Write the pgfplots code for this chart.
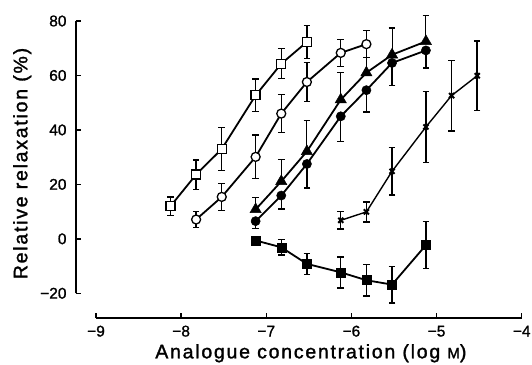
\documentclass[border=0pt]{standalone}
\usepackage{fontspec}
\setmainfont[FakeBold=1.2]{Liberation Sans}
\newfontfamily\lblfont[LetterSpace=9, FakeBold=1.5]{Liberation Sans}
\usepackage{pgfplots}
\usepackage{pgfplotstable}
\pgfplotsset{compat=1.18}

\pgfplotstableread{
x y e
-8.125 12.0 3.4
-7.824 23.6 5.4
-7.523 33.0 8.0
-7.125 52.7 6.0
-6.824 64.3 5.5
-6.523 72.3 6.0
}\opensq
\pgfplotstableread{
x y e
-7.824 7.1 3.0
-7.523 15.4 5.0
-7.125 30.1 8.0
-6.824 46.0 7.0
-6.523 57.6 7.2
-6.125 68.3 5.0
-5.824 71.5 5.0
}\opencirc
\pgfplotstableread{
x y e
-7.125 10.8 4.3
-6.824 21.1 8.0
-6.523 32.1 11.4
-6.125 51.1 10.0
-5.824 61.0 10.0
-5.523 67.6 9.8
-5.125 72.5 9.5
}\filltri
\pgfplotstableread{
x y e
-7.125 6.5 2.8
-6.824 15.9 4.9
-6.523 27.5 8.8
-6.125 45.0 9.2
-5.824 54.6 8.0
-5.523 64.6 8.3
-5.125 69.2 6.5
}\fillcirc
\pgfplotstableread{
x y e
-6.125 6.8 3.2
-5.824 9.9 3.7
-5.523 24.8 8.7
-5.125 41.1 13.0
-4.824 52.6 13.0
-4.523 59.9 12.7
}\cross
\pgfplotstableread{
x y e
-7.125 -0.6 0
-6.824 -3.1 2.8
-6.523 -9.2 3.8
-6.125 -12.3 5.7
-5.824 -15.2 5.8
-5.523 -16.8 6.7
-5.125 -2.3 8.6
}\fillsq

\pgfplotsset{myerr/.style 2 args={error bars/.cd, y dir=#1, y explicit, error mark=-,
  error bar style={line width=#2},
  error mark options={rotate=90, mark size=3.3pt, line width=1.4pt, black}}}

\begin{document}
\begin{tikzpicture}
\begin{axis}[
  scale only axis, width=425.7pt, height=272.3pt,
  xmin=-9, xmax=-4, ymin=-20, ymax=80,
  axis lines=left,
  axis line style={-, line width=1.4pt, black},
  axis x line shift=24.7pt,
  axis y line shift=20pt,
  tick align=inside,
  major tick length=5pt,
  tick style={line width=1.4pt, black},
  xtick={-9,-8,-7,-6,-5,-4},
  xticklabels={−9,−8,−7,−6,−5,−4},
  ytick={-20,0,20,40,60,80},
  yticklabels={−20,0,20,40,60,80},
  ticklabel style={font=\fontsize{15.5}{15.5}\selectfont},
  xticklabel style={anchor=base, inner sep=0pt, yshift=-18.5pt},
  yticklabel style={anchor=east, inner sep=0pt, xshift=-9.3pt},
  xlabel={\lblfont\fontsize{19.5}{19.5}\selectfont Analogue concentration (log {\fontsize{15}{15}\selectfont M})},
  ylabel={\lblfont\fontsize{19.5}{19.5}\selectfont Relative relaxation (\%)},
  xlabel style={at={(axis description cs:0.5048,-0.2387)}, anchor=base, inner sep=0pt},
  ylabel style={at={(axis description cs:-0.1614,0.4767)}, anchor=base, inner sep=0pt},
  every axis plot/.append style={black, line width=1.8pt},
  clip=false,
]
\coordinate (O) at (rel axis cs:0,0);
% open squares
\addplot[mark=square*, mark size=4.5pt, mark options={fill=white, line width=1.3pt},
  myerr={both}{1.4pt}]
  table[x=x, y=y, y error=e]{\opensq};
% open circles
\addplot[mark=*, mark size=4.5pt, mark options={fill=white, line width=1.3pt},
  myerr={both}{1.4pt}]
  table[x=x, y=y, y error=e]{\opencirc};
% filled triangles
\addplot[mark=triangle*, mark size=6.5pt, mark options={fill=black, line width=0.5pt},
  myerr={plus}{0.9pt}]
  table[x=x, y=y, y error=e]{\filltri};
% filled circles
\addplot[mark=*, mark size=4.6pt, mark options={fill=black, line width=0.5pt},
  myerr={minus}{1.4pt}]
  table[x=x, y=y, y error=e]{\fillcirc};
% crosses
\addplot[line width=1.4pt, mark=x, mark size=3.6pt, mark options={line width=2pt},
  myerr={both}{1.4pt}]
  table[x=x, y=y, y error=e]{\cross};
% filled squares
\addplot[mark=square*, mark size=4.5pt, mark options={fill=black, line width=0.5pt},
  myerr={both}{1.4pt}]
  table[x=x, y=y, y error=e]{\fillsq};
\end{axis}
\pgfresetboundingbox
\path[use as bounding box] ([shift={(-96pt,-70.7pt)}]O) rectangle ([shift={(436pt,293.3pt)}]O);
\end{tikzpicture}
\end{document}
